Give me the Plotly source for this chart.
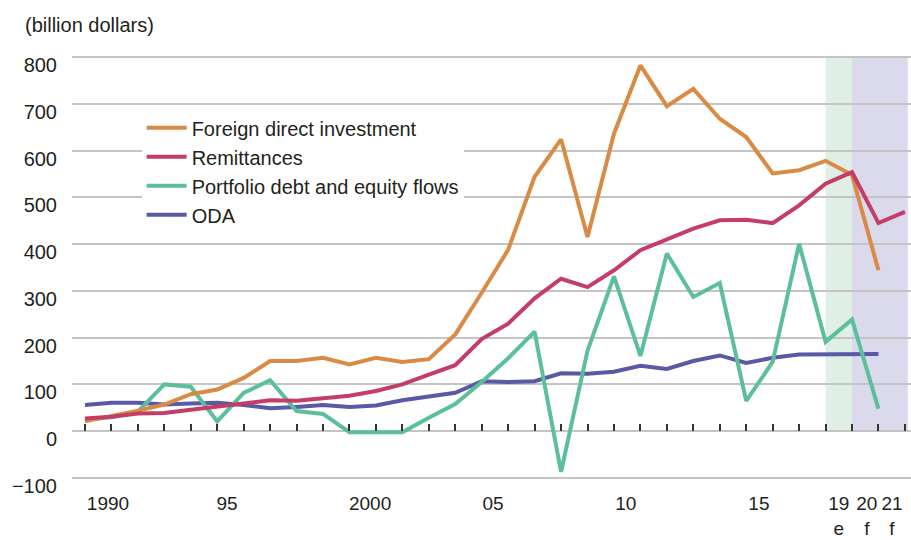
import plotly.graph_objects as go

# ---------------- data ----------------
years = list(range(1990, 2022))

fdi = [21, 32, 44, 57, 79, 89, 114, 150, 150, 157, 143, 157, 148, 154, 207,
       296, 388, 544, 624, 415, 636, 782, 695, 732, 668, 629, 551, 558, 578,
       548, 344, None]

remittances = [27, 31, 38, 39, 46, 52, 59, 66, 65, 70, 76, 86, 100, 121, 141,
               197, 230, 284, 326, 308, 344, 387, 410, 433, 451, 452, 445, 483,
               529, 554, 445, 469]

portfolio = [25, 30, 42, 100, 95, 21, 82, 109, 43, 37, -2, -2, -2, 29, 58,
             105, 156, 213, -87, 172, 331, 161, 380, 287, 317, 65, 148, 401,
             191, 239, 48, None]

oda = [56, 61, 61, 57, 59, 61, 56, 49, 52, 56, 52, 55, 66, 75, 82,
       107, 105, 107, 124, 123, 127, 140, 133, 150, 162, 146, 157, 164,
       165, 165, 165, None]

series_names = ["Foreign direct investment", "Remittances",
                "Portfolio debt and equity flows", "ODA"]

tick_years = [1990, 1995, 2000, 2005, 2010, 2015, 2019, 2020, 2021]
tick_text = ["1990", "95", "2000", "05", "10", "15", "19<br>e", "20<br>f", "21<br>f"]
y_ticks = list(range(-100, 801, 100))

# ---------------- styling ----------------
FONT = "Liberation Sans, Arial, sans-serif"
TXT = "#231F20"
colors = {
    "Foreign direct investment": "#D98B45",
    "Remittances": "#C43D66",
    "Portfolio debt and equity flows": "#5CBF9B",
    "ODA": "#5959A6",
}
values = {
    "Foreign direct investment": fdi,
    "Remittances": remittances,
    "Portfolio debt and equity flows": portfolio,
    "ODA": oda,
}
# label offsets (in years) relative to their year, to mimic the original placement
label_shift = [0.87, 0.37, 0.78, 0.43, 0.45, 0.48, -0.5, -0.44, -0.49]

X_RANGE = [1989.51, 2021.23]
Y_RANGE = [-115, 815]

fig = go.Figure()

draw_order = ["ODA", "Portfolio debt and equity flows",
              "Foreign direct investment", "Remittances"]
for name in draw_order:
    fig.add_trace(go.Scatter(
        x=years, y=values[name], name=name, mode="lines",
        line=dict(color=colors[name], width=4),
        legendrank=series_names.index(name) + 1,
        hoverinfo="x+y+name",
    ))

# invisible trace that makes the year-tick axis (drawn along zero) exist
fig.add_trace(go.Scatter(x=[years[0]], y=[0], xaxis="x2", mode="markers",
                         marker=dict(opacity=0, size=1), showlegend=False,
                         hoverinfo="skip"))

# shaded estimate / forecast bands
fig.add_shape(type="rect", xref="x", yref="y", x0=2018, x1=2019, y0=0, y1=800,
              fillcolor="#DFEFE5", line_width=0, layer="below")
fig.add_shape(type="rect", xref="x", yref="y", x0=2019, x1=2021.11, y0=0, y1=800,
              fillcolor="#DADAEC", line_width=0, layer="below")

zero_pos = (0 - Y_RANGE[0]) / (Y_RANGE[1] - Y_RANGE[0])

fig.update_layout(
    width=911, height=540,
    margin=dict(l=72, r=0, t=50, b=55, autoexpand=False),
    paper_bgcolor="white", plot_bgcolor="white",
    font=dict(family=FONT, size=20, color=TXT),
    title=dict(text="(billion dollars)", x=25 / 911, xanchor="left",
               xref="container", yref="container", y=1 - 25 / 540,
               yanchor="middle", pad=dict(l=0, r=0, t=0, b=0),
               font=dict(family=FONT, size=20, color=TXT)),
    showlegend=True,
    legend=dict(x=0.083, y=0.866, xanchor="left", yanchor="top",
                bgcolor="white", borderwidth=0, tracegroupgap=0,
                font=dict(family=FONT, size=20, color=TXT),
                itemwidth=40),
    xaxis=dict(range=X_RANGE, showgrid=False, zeroline=False, showline=False,
               tickmode="array",
               tickvals=[y + s for y, s in zip(tick_years, label_shift)],
               ticktext=tick_text, ticks="", ticklabelstandoff=5,
               tickangle=0, automargin=False,
               tickfont=dict(size=19)),
    xaxis2=dict(range=X_RANGE, overlaying="x", anchor="free", position=zero_pos,
                side="bottom", tickmode="linear", tick0=1990, dtick=1,
                ticks="inside", ticklen=7, tickwidth=1.5, tickcolor="#333333",
                showticklabels=False, showgrid=False, zeroline=False,
                showline=False),
    yaxis=dict(range=Y_RANGE, tickmode="array", tickvals=y_ticks,
               ticktext=[("\u2212" + str(-v)) if v < 0 else str(v) for v in y_ticks],
               showgrid=True, gridcolor="#C4C4C4", gridwidth=2,
               zeroline=False, showline=False, ticks="",
               ticklabelshift=8, ticklabelstandoff=14, automargin=False,
               tickfont=dict(size=20)),
)

fig.write_html("out.html",
               config={"displayModeBar": False},
               post_script="document.body.style.margin='0';"
                           "document.body.style.overflow='hidden';")
